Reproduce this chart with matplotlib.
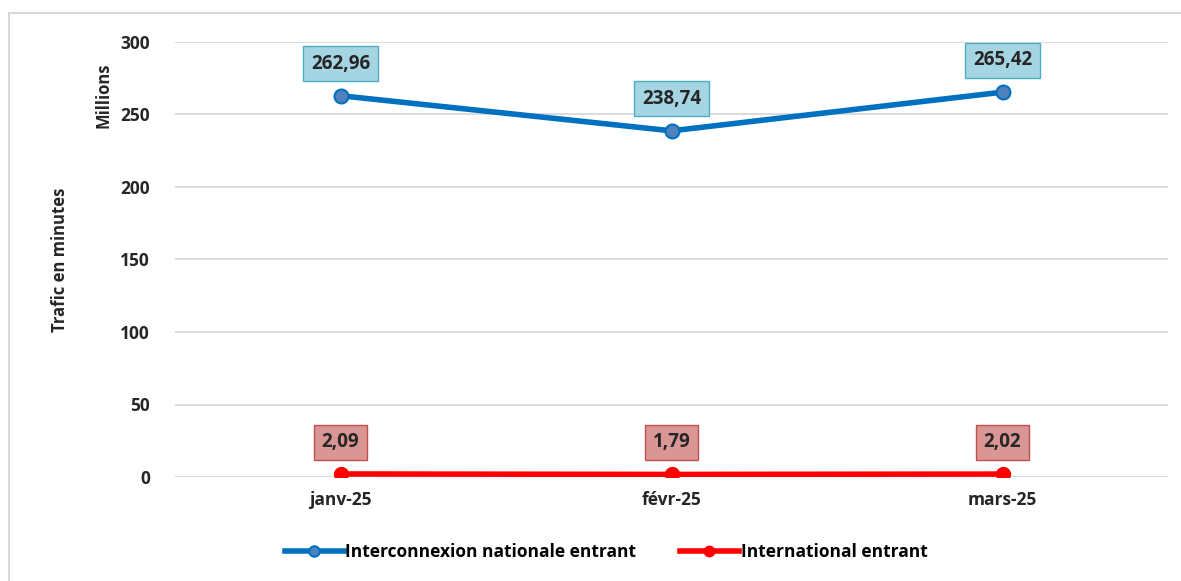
import matplotlib.pyplot as plt
from matplotlib.patches import Rectangle

plt.rcParams['font.family'] = ['Open Sans', 'DejaVu Sans']

mois = ["janv-25", "févr-25", "mars-25"]
national = [262.96, 238.74, 265.42]
international = [2.09, 1.79, 2.02]
yticks = [0, 50, 100, 150, 200, 250, 300]

W, H = 1181, 581
fig = plt.figure(figsize=(W / 100, H / 100), dpi=100)

# cadre gris clair autour du graphique
fig.patches.append(Rectangle((9 / W, -0.1), 1.2, 1 - 13 / H + 0.1,
                             transform=fig.transFigure, fill=False,
                             edgecolor="#D9D9D9", lw=1.5))

ax = fig.add_axes([175 / W, 1 - 477 / H, (1168 - 175) / W, (477 - 42) / H])
x = [i + 0.5 for i in range(len(mois))]

ax.plot(x, national, color="#0070C0", lw=4, marker="o", ms=10,
        mfc="#4F81BD", mec="#0070C0", mew=1.5, zorder=3,
        label="Interconnexion nationale entrant")
ax.plot(x, international, color="#FF0000", lw=4, marker="o", ms=10,
        mfc="#FF0000", mec="#FF0000", zorder=3,
        label="International entrant")

for xi, v in zip(x, national):
    ax.annotate(f"{v:.2f}".replace(".", ","), (xi, v), xytext=(0, 23),
                textcoords="offset points", ha="center", va="center",
                fontsize=13.5, fontweight="bold", color="#262626",
                bbox=dict(boxstyle="square,pad=0.4", fc="#A5D5E2", ec="#4BACC6", lw=1))
for xi, v in zip(x, international):
    ax.annotate(f"{v:.2f}".replace(".", ","), (xi, v), xytext=(0, 23),
                textcoords="offset points", ha="center", va="center",
                fontsize=13.5, fontweight="bold", color="#262626",
                bbox=dict(boxstyle="square,pad=0.4", fc="#D99694", ec="#C0504D", lw=1))

ax.set_xlim(0, 3)
ax.set_ylim(0, 300)
ax.set_yticks(yticks)
ax.set_xticks(x)
ax.set_xticklabels(mois)
for lab in ax.get_xticklabels() + ax.get_yticklabels():
    lab.set_fontweight("bold")
    lab.set_fontsize(12.5)
    lab.set_color("#262626")
ax.tick_params(length=0, pad=18)
ax.tick_params(axis="x", pad=10)
ax.grid(axis="y", color="#D9D9D9", lw=1.3)
ax.set_axisbelow(True)
for s in ax.spines.values():
    s.set_visible(False)
ax.axhline(0, color="#D9D9D9", lw=1.3, zorder=1)

fig.text(103 / W, 1 - 95 / H, "Millions", rotation=90, ha="center", va="center",
         fontsize=12, fontweight="bold", color="#262626")
fig.text(60 / W, 1 - 260 / H, "Trafic en minutes", rotation=90, ha="center", va="center",
         fontsize=12, fontweight="bold", color="#262626")

fig.legend(loc="center", bbox_to_anchor=(606 / W, 1 - 552 / H), ncol=2, frameon=False,
           prop=dict(size=12.5, weight="bold"), handlelength=3.4, handletextpad=0.1,
           columnspacing=2.5, markerscale=0.75)

fig.savefig("out.png", dpi=100)
